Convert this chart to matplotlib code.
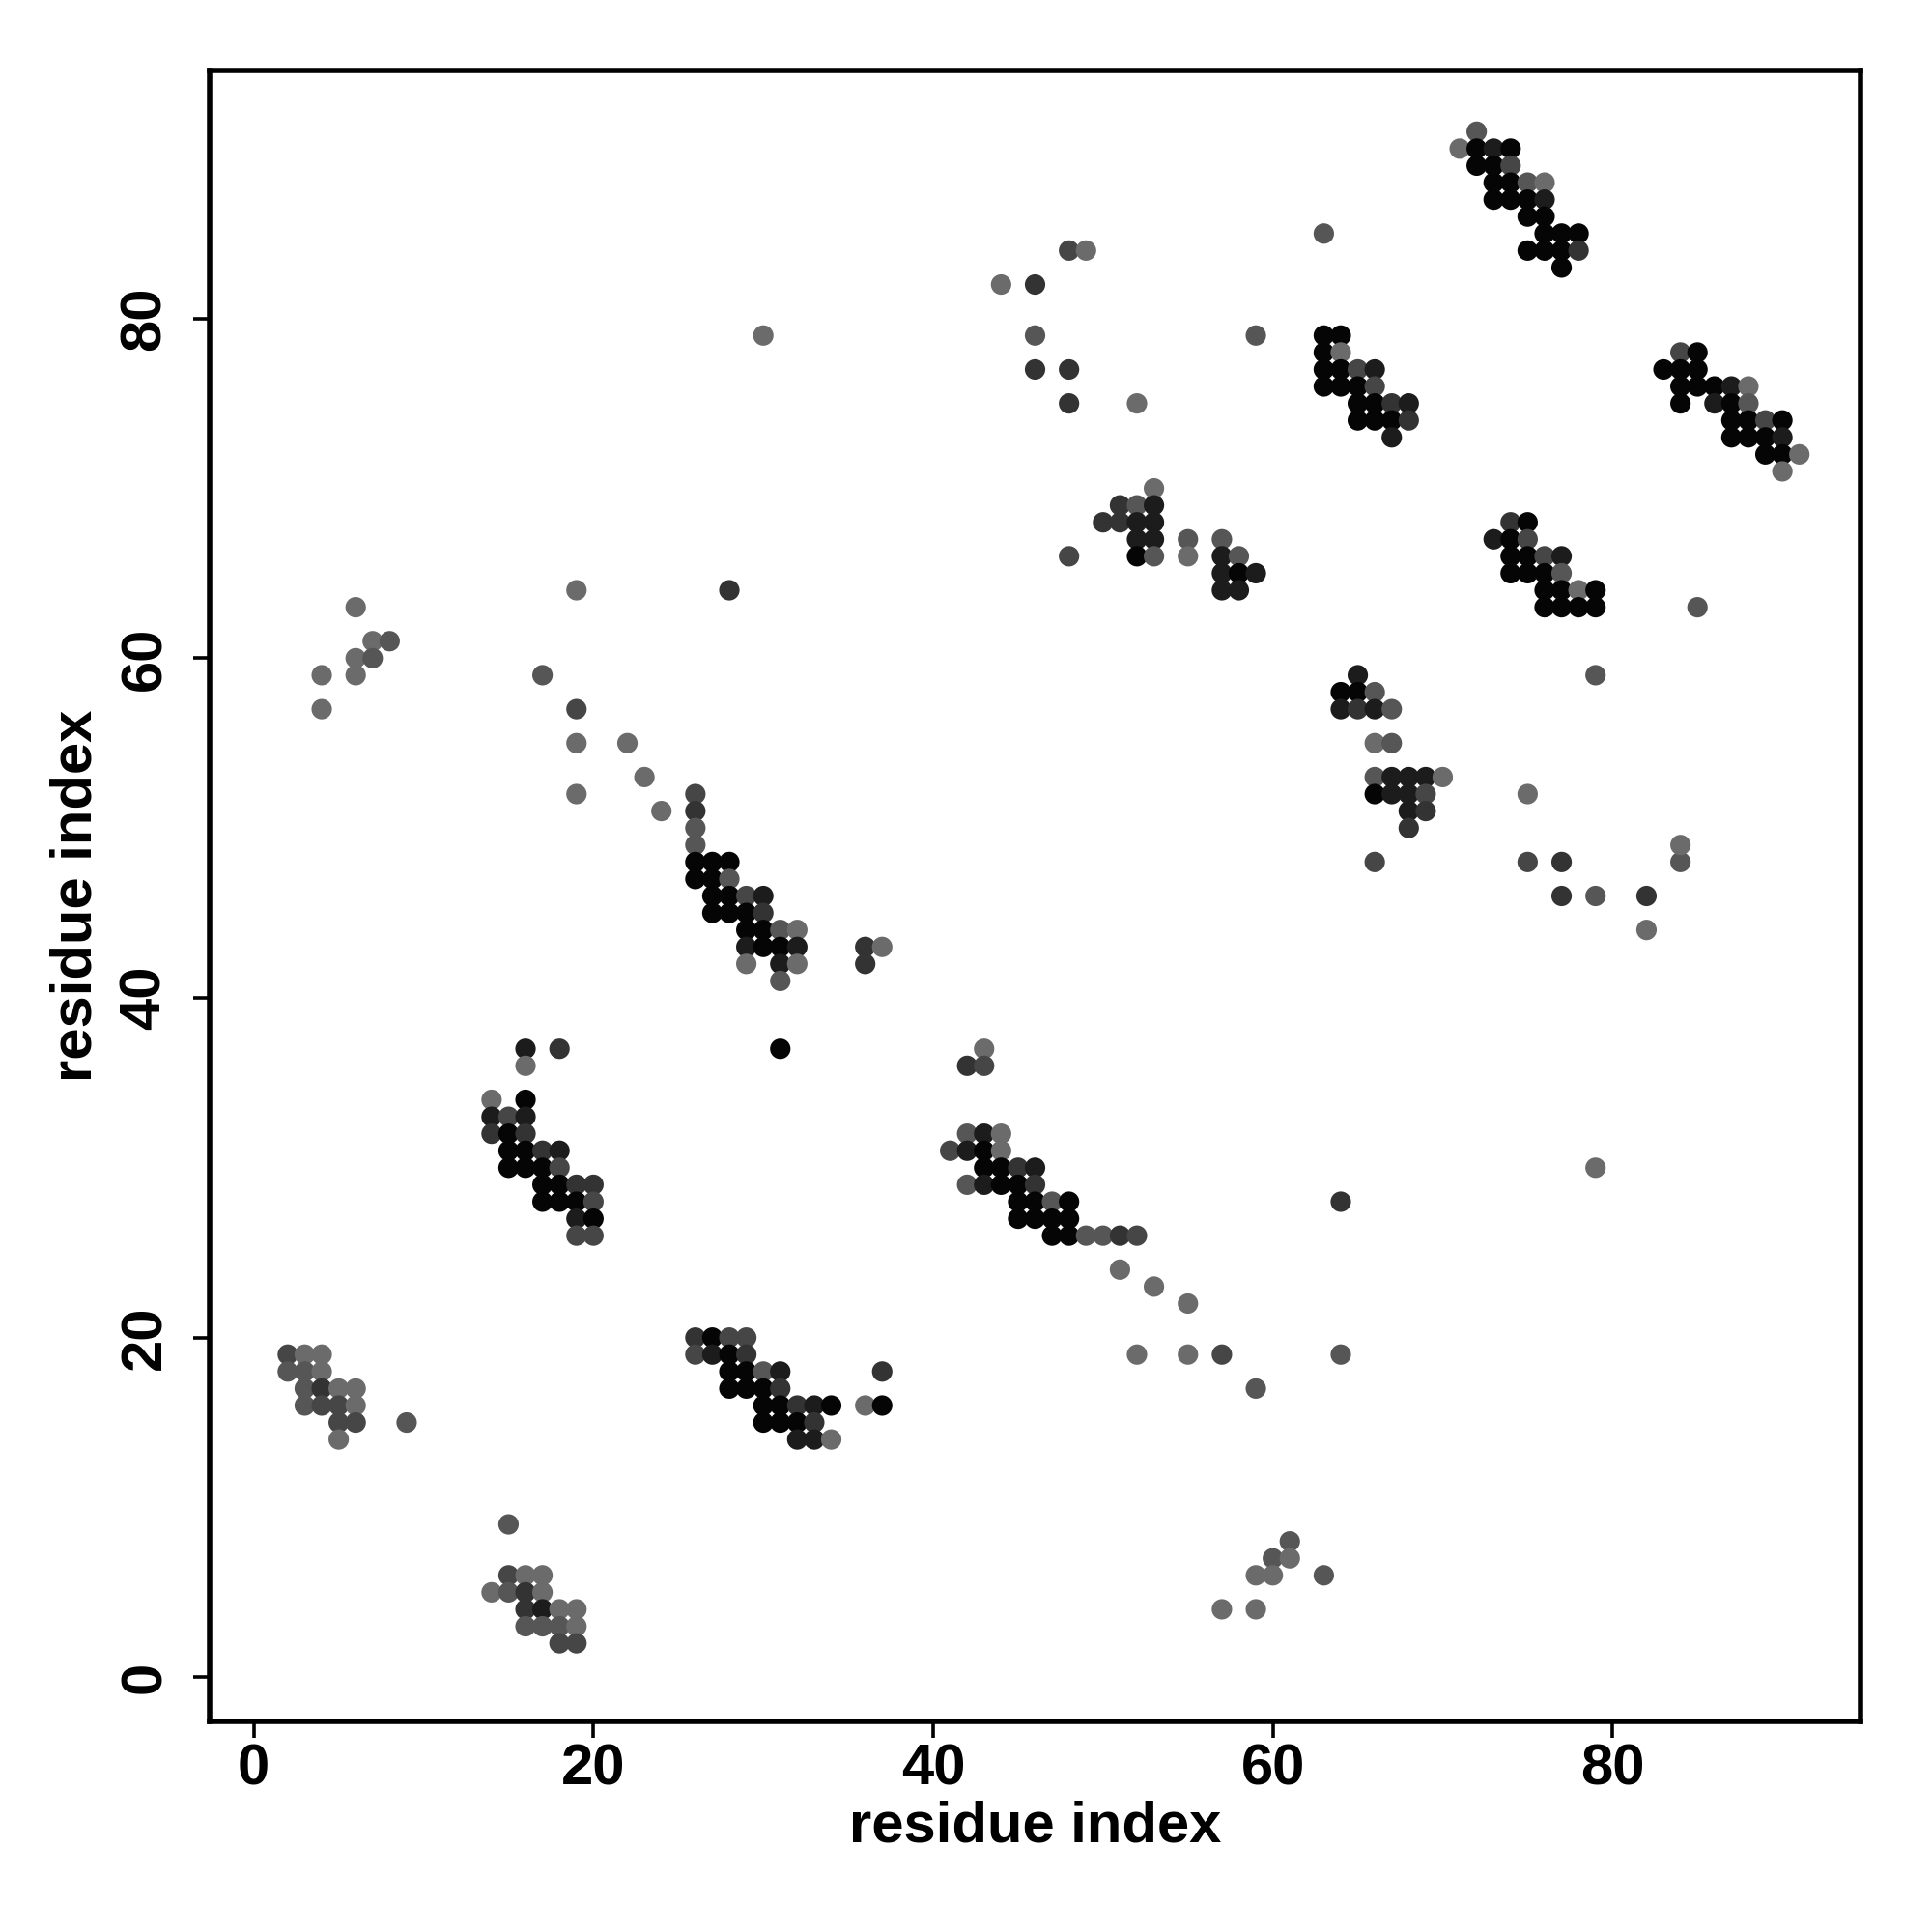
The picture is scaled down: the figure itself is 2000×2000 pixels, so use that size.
import matplotlib
matplotlib.use('Agg')
import matplotlib.pyplot as plt

plt.rcParams['font.family'] = ['Liberation Sans', 'DejaVu Sans']
plt.rcParams['font.weight'] = 'bold'

# contact strength -> grey shade
grays = {'K': '#050505', 'D': '#1c1c1c', 'S': '#333333',
         'M': '#464646', 'N': '#565656', 'L': '#6b6b6b'}

# rows of contacts: (residue j, [residue i ...], shades)
block_a = [(19, [2, 3, 4], "MLL"), (18, [2, 3, 4], "NNL"),
           (17, [3, 4, 5, 6], "NSLL"), (16, [3, 4, 5, 6], "NMML"),
           (15, [5, 6, 9], "MMN"), (14, [5], "L"), (9, [15], "N")]

block_b = [(6, [15, 16, 17], "MLL"), (5, [14, 15, 16, 17], "LNSL"),
           (4, [16, 17, 18, 19], "SDLL"), (3, [16, 17, 18, 19], "NNNL"),
           (2, [18, 19], "MM")]

block_c = [(20, [26, 27, 28, 29], "SKMM"), (19, [26, 27, 28, 29], "MDKS"),
           (18, [28, 29, 30, 31, 37], "KKNDS"), (17, [28, 29, 30, 31], "KKKS"),
           (16, [30, 31, 32, 33, 34, 36, 37], "KKSDKLK"),
           (15, [30, 31, 32, 33], "KKKS"), (14, [32, 33, 34], "DDL")]

low_scatter = [(19, [52, 55, 57, 64], "LLMN"), (17, [59], "N"), (8, [61], "N"),
               (7, [60, 61], "NL"), (6, [59, 60, 63], "LLN"), (4, [57, 59], "LL")]

block_d = [(37, [16, 18], "DS"), (36, [16], "L"), (34, [14, 16], "LK"),
           (33, [14, 15, 16], "DMD"), (32, [14, 15, 16], "SKS"),
           (31, [15, 16, 17, 18], "KKSD"), (30, [15, 16, 17, 18], "KKKM"),
           (29, [17, 18, 19, 20], "KKSS"), (28, [17, 18, 19, 20], "KKKM"),
           (27, [19, 20], "DK"), (26, [19, 20], "MM")]

block_e = [(52, [26], "M"), (51, [26], "S"), (50, [26], "N"), (49, [26], "N"),
           (48, [26, 27, 28], "KKK"), (47, [26, 27, 28], "KKN"),
           (46, [27, 28, 29, 30], "KKMD"), (45, [27, 28, 29, 30], "KKKS"),
           (44, [29, 30, 31, 32], "KKNL"), (43, [29, 30, 31, 32, 36, 37], "DKKDSL"),
           (42, [29, 31, 32, 36], "LDLS"), (41, [31], "N"), (37, [31], "K")]

upper_left_scatter = [(64, [19, 28], "LS"), (63, [6], "L"), (61, [7, 8], "LN"),
                      (60, [6, 7], "LN"), (59, [4, 6, 17], "LLN"), (57, [4, 19], "LM"),
                      (55, [19, 22], "LL"), (53, [23], "L"), (52, [19], "L"),
                      (51, [24], "L")]

block_f = [(37, [43], "L"), (36, [42, 43], "SM"), (32, [42, 43, 44], "NDL"),
           (31, [41, 42, 43, 44], "MDKL"), (30, [43, 44, 45, 46], "KKSD"),
           (29, [42, 43, 44, 45, 46], "NDKKS"), (28, [45, 46, 47, 48], "KKNK"),
           (27, [45, 46, 47, 48], "KKKK"), (26, [47, 48, 49, 50, 51, 52], "KKNNSM"),
           (24, [51], "L"), (23, [53], "L"), (22, [55], "L")]

mid_right_scatter = [(28, [64], "S"), (30, [79], "L"), (44, [82], "L"),
                     (46, [77, 79, 82], "SNS"), (48, [66, 75, 77, 84], "MMSN"),
                     (49, [84], "L"), (52, [75], "L"), (59, [79], "N"), (63, [85], "N")]

block_g = [(59, [65], "D"), (58, [64, 65, 66], "KKN"), (57, [64, 65, 66, 67], "DSDN"),
           (55, [66, 67], "LN"), (53, [66, 67, 68, 69, 70], "NDDDL"),
           (52, [66, 67, 68, 69], "KDDM"), (51, [68, 69], "DS"), (50, [68], "S")]

block_h = [(68, [74, 75], "SK"), (67, [73, 74, 75], "DKM"),
           (66, [74, 75, 76, 77], "KKMD"), (65, [74, 75, 76, 77], "KKKN"),
           (64, [76, 77, 78, 79], "KKLK"), (63, [76, 77, 78, 79], "KKKK")]

block_i = [(70, [53], "L"), (69, [51, 52, 53], "SND"), (68, [50, 51, 52, 53], "SSDD"),
           (67, [52, 53, 55, 57], "DDNN"), (66, [48, 52, 53, 55, 57, 58], "MKNLDN"),
           (65, [57, 58, 59], "DKD"), (64, [57, 58], "DD")]

top_scatter = [(85, [63], "N"), (84, [48, 49], "ML"), (82, [44, 46], "LS"),
               (79, [30, 46, 59], "LNN"), (77, [46, 48], "SS"), (75, [48, 52], "SL")]

block_j = [(79, [63, 64], "KK"), (78, [63, 64], "KL"), (77, [63, 64, 65, 66], "KKMD"),
           (76, [63, 64, 65, 66], "KKKM"), (75, [65, 66, 67, 68], "KKSD"),
           (74, [65, 66, 67, 68], "KKKS"), (73, [67], "D")]

block_k = [(91, [72], "N"), (90, [71, 72, 73, 74], "LKDK"), (89, [72, 73, 74], "KKM"),
           (88, [73, 74, 75, 76], "KKNL"), (87, [73, 74, 75, 76], "KKKD"),
           (86, [75, 76], "KK"), (85, [76, 77, 78], "KKK"),
           (84, [75, 76, 77, 78], "KKKS"), (83, [77], "K")]

block_l = [(78, [84, 85], "MK"), (77, [83, 84, 85], "KKK"),
           (76, [84, 85, 86, 87, 88], "KKKDL"), (75, [84, 86, 87, 88], "KDKN"),
           (74, [87, 88, 89, 90], "KKMK"), (73, [87, 88, 89, 90], "KKKD"),
           (72, [89, 90, 91], "KKL"), (71, [90], "L")]

blocks = [block_a, block_b, block_c, low_scatter, block_d, block_e,
          upper_left_scatter, block_f, mid_right_scatter, block_g, block_h,
          block_i, top_scatter, block_j, block_k, block_l]

ticks = [0, 20, 40, 60, 80]

xs, ys, cs = [], [], []
for block in blocks:
    for j, row_i, row_s in block:
        assert len(row_i) == len(row_s)
        for i, s in zip(row_i, row_s):
            xs.append(i)
            ys.append(j)
            cs.append(grays[s])

fig = plt.figure(figsize=(10, 10), dpi=200)
ax = fig.add_axes([0.1085, 0.109, 0.8545, 0.8545])
ax.scatter(xs, ys, s=58, c=cs, linewidths=0)

ax.set_xlim(-2.6, 94.6)
ax.set_ylim(-2.6, 94.6)
ax.set_xticks(ticks)
ax.set_yticks(ticks)
ax.set_yticklabels([str(t) for t in ticks], rotation=90, va='center')
ax.tick_params(direction='out', length=6, width=1.3, labelsize=21.5)
ax.tick_params(axis='x', pad=2)
ax.tick_params(axis='y', pad=8)
for sp in ax.spines.values():
    sp.set_linewidth(2)

ax.set_xlabel('residue index', fontsize=21.5, fontweight='bold')
ax.set_ylabel('residue index', fontsize=21.5, fontweight='bold')
ax.xaxis.set_label_coords(0.5, -0.064)
ax.xaxis.label.set_va('center')
ax.yaxis.set_label_coords(-0.081, 0.5)
ax.yaxis.label.set_va('center')

fig.savefig('out.png', dpi=200)
